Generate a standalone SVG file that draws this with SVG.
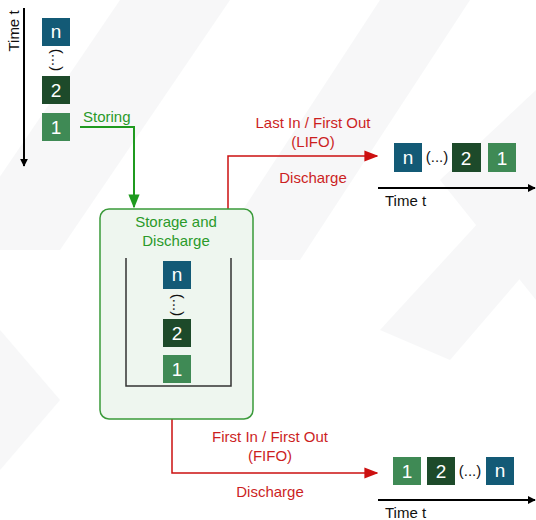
<svg xmlns="http://www.w3.org/2000/svg" width="536" height="520" viewBox="0 0 536 520">
<defs>
<style>
text{font-family:"Liberation Sans","DejaVu Sans",sans-serif;font-size:15px}
.w{fill:#ffffff;font-size:19px;text-anchor:middle}
.red{fill:#cc1f1f;text-anchor:middle}
.grn{fill:#2a9a2a}
.blk{fill:#111111}
.sq-n{fill:#135a76}
.sq-2{fill:#1d4a2a}
.sq-1{fill:#3f8a55}
.bg{fill:#f4f5f6}
</style>
<marker id="ab" viewBox="0 0 10 10" refX="9" refY="5" markerWidth="8" markerHeight="8" markerUnits="userSpaceOnUse" orient="auto"><path d="M0,0 L10,5 L0,10 z" fill="#000"/></marker>
<marker id="ar" viewBox="0 0 10 10" refX="9" refY="5" markerWidth="14" markerHeight="14" markerUnits="userSpaceOnUse" orient="auto"><path d="M0,1 L10,5 L0,9 z" fill="#cc1010"/></marker>
<marker id="ag" viewBox="0 0 10 10" refX="9" refY="5" markerWidth="14" markerHeight="14" markerUnits="userSpaceOnUse" orient="auto"><path d="M0,1 L10,5 L0,9 z" fill="#1f9a1f"/></marker>
</defs>
<rect width="536" height="520" fill="#ffffff"/>
<g id="background" opacity="0.7">
<polygon class="bg" points="120,0 230,0 60,250 -50,250"/>
<polygon class="bg" points="380,0 470,0 300,260 210,260"/>
<polygon class="bg" points="536,90 536,300 440,180"/>
<polygon class="bg" points="380,330 536,160 536,260 450,360"/>
<polygon class="bg" points="0,330 0,470 60,400"/>
</g>
<g id="connectors" fill="none">
<line x1="24" y1="8" x2="24" y2="166" stroke="#000" stroke-width="2" marker-end="url(#ab)"/>
<polyline points="80,127 134,127 134,207" stroke="#1f9a1f" stroke-width="2" marker-end="url(#ag)"/>
<polyline points="228,209 228,156 377,156" stroke="#cc1010" stroke-width="1.5" marker-end="url(#ar)"/>
<polyline points="172,419 172,473 377,473" stroke="#cc1010" stroke-width="1.5" marker-end="url(#ar)"/>
<line x1="378" y1="188" x2="535" y2="188" stroke="#000" stroke-width="2" marker-end="url(#ab)"/>
<line x1="378" y1="500" x2="535" y2="500" stroke="#000" stroke-width="2" marker-end="url(#ab)"/>
</g>
<g id="time-axis-left">
<text class="blk" transform="translate(19,31) rotate(-90)" text-anchor="middle">Time t</text>
</g>
<g id="input-stack">
<rect class="sq-n" x="42" y="18" width="28" height="28"/><text class="w" x="56" y="38">n</text>
<text class="blk" transform="translate(52,60) rotate(90)" text-anchor="middle" font-size="13">(...)</text>
<rect class="sq-2" x="42" y="76" width="28" height="28"/><text class="w" x="56" y="97">2</text>
<rect class="sq-1" x="42" y="113" width="28" height="28"/><text class="w" x="56" y="134">1</text>
</g>
<g id="storing-label"><text class="grn" x="83" y="122">Storing</text></g>
<g id="storage-box">
<rect x="100" y="209" width="153" height="210" rx="9" fill="#eef6ef" stroke="#3a9a3a" stroke-width="1.5"/>
<text class="grn" x="176" y="227" text-anchor="middle">Storage and</text>
<text class="grn" x="176" y="246" text-anchor="middle">Discharge</text>
<polyline points="126,258 126,386 231,386 231,258" fill="none" stroke="#333" stroke-width="1.5"/>
<rect class="sq-n" x="163" y="261" width="28" height="28"/><text class="w" x="177" y="281">n</text>
<text class="blk" transform="translate(173,305) rotate(90)" text-anchor="middle" font-size="13">(...)</text>
<rect class="sq-2" x="163" y="319" width="28" height="28"/><text class="w" x="177" y="340">2</text>
<rect class="sq-1" x="163" y="355" width="28" height="28"/><text class="w" x="177" y="376">1</text>
</g>
<g id="lifo-label">
<text class="red" x="313" y="128">Last In / First Out</text>
<text class="red" x="313" y="147">(LIFO)</text>
<text class="red" x="313" y="183">Discharge</text>
</g>
<g id="lifo-output">
<rect class="sq-n" x="394" y="143" width="28" height="29"/><text class="w" x="408" y="164">n</text>
<text class="blk" x="437" y="162" text-anchor="middle" font-size="13">(...)</text>
<rect class="sq-2" x="452" y="143" width="29" height="29"/><text class="w" x="466" y="165">2</text>
<rect class="sq-1" x="488" y="143" width="28" height="29"/><text class="w" x="502" y="165">1</text>
<text class="blk" x="385" y="206">Time t</text>
</g>
<g id="fifo-label">
<text class="red" x="270" y="442">First In / First Out</text>
<text class="red" x="270" y="461">(FIFO)</text>
<text class="red" x="270" y="497">Discharge</text>
</g>
<g id="fifo-output">
<rect class="sq-1" x="393" y="457" width="28" height="28"/><text class="w" x="407" y="478">1</text>
<rect class="sq-2" x="427" y="457" width="28" height="28"/><text class="w" x="441" y="478">2</text>
<text class="blk" x="470" y="476" text-anchor="middle" font-size="13">(...)</text>
<rect class="sq-n" x="486" y="457" width="28" height="28"/><text class="w" x="500" y="477">n</text>
<text class="blk" x="385" y="518">Time t</text>
</g>
</svg>
